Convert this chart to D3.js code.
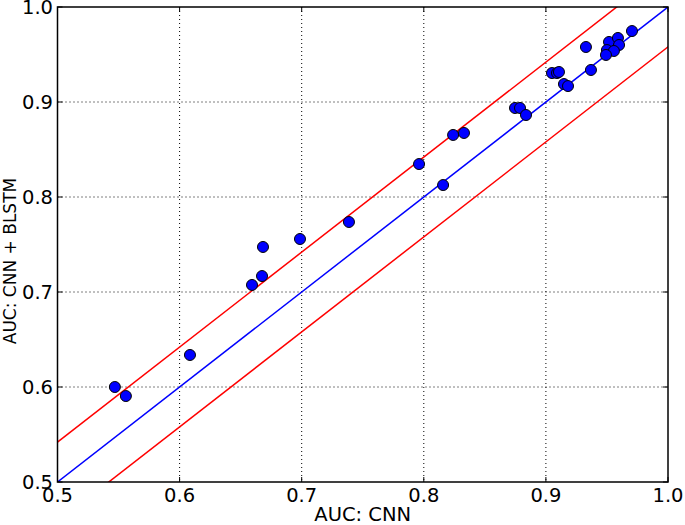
<!DOCTYPE html>
<html><head><meta charset="utf-8">
<script src="https://cdn.jsdelivr.net/npm/d3@7"></script>
<style>body{margin:0;background:#fff}svg{display:block}text{font-family:"DejaVu Sans",sans-serif}</style>
</head><body><svg id="c" width="685" height="525"></svg>
<script>
const xTicks = [0.5,0.6,0.7,0.8,0.9,1.0];
const yTicks = [0.5,0.6,0.7,0.8,0.9,1.0];
const tickLabels = ["0.5","0.6","0.7","0.8","0.9","1.0"];
const aucCNN = [0.547,0.556,0.6085,0.6593,0.6675,0.6683,0.6986,0.7387,0.7961,0.8158,0.824,0.8329,0.8747,0.8788,0.8837,0.905,0.9091,0.9107,0.9148,0.9181,0.9328,0.9369,0.9517,0.959,0.9599,0.95,0.9557,0.9492,0.9705];
const aucBLSTM = [0.600,0.5905,0.6337,0.7074,0.7168,0.7474,0.7558,0.7737,0.8347,0.8126,0.8653,0.8674,0.8937,0.8937,0.8863,0.9305,0.9305,0.9316,0.9189,0.9168,0.9579,0.9337,0.9632,0.9674,0.96,0.9547,0.9537,0.9495,0.9747];
const margin = 0.042;
const refLines = [{off:0,color:"#0000ff"},{off:margin,color:"#ff0000"},{off:-margin,color:"#ff0000"}];

const svg = d3.select("#c");
const L=57.5,R=668,T=7,B=482;
const FS = 19.5;
const x = d3.scaleLinear().domain([0.5,1.0]).range([L,R]);
const y = d3.scaleLinear().domain([0.5,1.0]).range([B,T]);

svg.append("clipPath").attr("id","clip").append("rect").attr("x",L).attr("y",T).attr("width",R-L).attr("height",B-T);

// grid
const g = svg.append("g");
g.selectAll(".gx").data(xTicks.slice(1,-1)).join("line")
  .attr("x1",d=>x(d)).attr("x2",d=>x(d)).attr("y1",T).attr("y2",B)
  .attr("stroke","#000").attr("stroke-width",1).attr("stroke-dasharray","1,3");
g.selectAll(".gy").data(yTicks.slice(1,-1)).join("line")
  .attr("y1",d=>y(d)).attr("y2",d=>y(d)).attr("x1",L).attr("x2",R)
  .attr("stroke","#000").attr("stroke-width",1).attr("stroke-dasharray","1,3");

// reference lines
const pl = svg.append("g").attr("clip-path","url(#clip)");
refLines.forEach(r=>{
  pl.append("line").attr("x1",x(0.4)).attr("y1",y(0.4+r.off)).attr("x2",x(1.1)).attr("y2",y(1.1+r.off))
    .attr("stroke",r.color).attr("stroke-width",1.5);
});

// points
svg.append("g").selectAll("circle").data(aucCNN.map((v,i)=>[v,aucBLSTM[i]])).join("circle")
  .attr("cx",d=>x(d[0])).attr("cy",d=>y(d[1])).attr("r",5.5)
  .attr("fill","#0000ff").attr("stroke","#000").attr("stroke-width",1);

// frame
svg.append("rect").attr("x",L).attr("y",T).attr("width",R-L).attr("height",B-T)
  .attr("fill","none").attr("stroke","#000").attr("stroke-width",1.5);

// ticks inward
const tk = svg.append("g").attr("stroke","#000").attr("stroke-width",1);
xTicks.forEach(t=>{
  tk.append("line").attr("x1",x(t)).attr("x2",x(t)).attr("y1",B).attr("y2",B-5);
  tk.append("line").attr("x1",x(t)).attr("x2",x(t)).attr("y1",T).attr("y2",T+5);
});
yTicks.forEach(t=>{
  tk.append("line").attr("y1",y(t)).attr("y2",y(t)).attr("x1",L).attr("x2",L+5);
  tk.append("line").attr("y1",y(t)).attr("y2",y(t)).attr("x1",R).attr("x2",R-5);
});

// tick labels
svg.append("g").selectAll("text").data(xTicks).join("text")
  .attr("x",d=>x(d)).attr("y",502).attr("text-anchor","middle").attr("font-size",FS)
  .text((d,i)=>tickLabels[i]);
svg.append("g").selectAll("text").data(yTicks).join("text")
  .attr("x",53).attr("y",d=>y(d)+7).attr("text-anchor","end").attr("font-size",FS)
  .text((d,i)=>tickLabels[i]);

// axis labels
svg.append("text").attr("x",(L+R)/2).attr("y",521).attr("text-anchor","middle").attr("font-size",FS).text("AUC: CNN");
svg.append("text").attr("transform",`translate(16,261) rotate(-90)`).attr("text-anchor","middle").attr("font-size",17).text("AUC: CNN + BLSTM");
</script></body></html>
